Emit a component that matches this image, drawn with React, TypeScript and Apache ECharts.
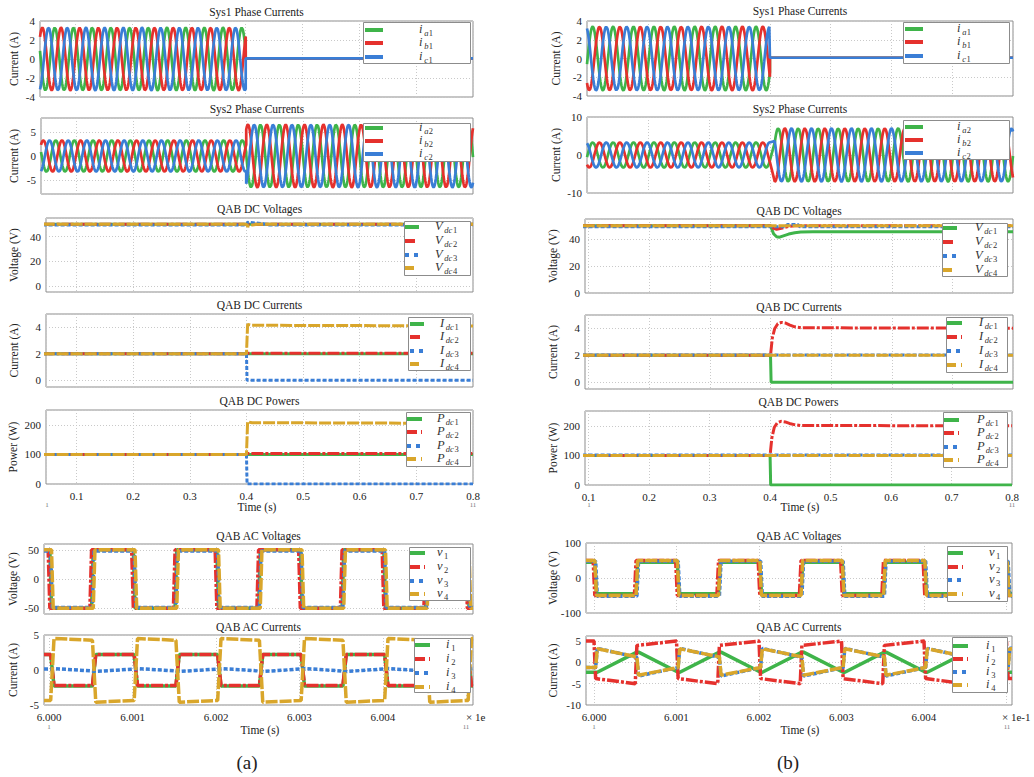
import React, { useEffect, useRef } from 'react';
import * as echarts from 'echarts';

const FONT = 'Liberation Serif, Times New Roman, serif';
const GREEN = '#3fb44a';
const RED = '#e5312d';
const BLUE = '#3a7ed6';
const YELLOW = '#d9a62b';
const INK = '#222';

// ---------------- data ----------------
// three-phase current segments: [tStart, tEnd, amplitude, phase of a at tStart (deg), period (s), offset]
const SYS1_A_SEGMENTS = [[0.038, 0.4, 3.3, 165, 0.0329, 0], [0.4, 0.8, 0, 0, 0.0329, 0.06]];
const SYS2_A_SEGMENTS = [[0.038, 0.4, 3.3, 165, 0.0329, 0], [0.4, 0.8, 6.6, 177.6, 0.0333, 0]];
const SYS1_B_SEGMENTS = [[0.099, 0.4, 3.4, 350, 0.0336, 0], [0.4, 0.8, 0, 0, 0.0336, 0.08]];
const SYS2_B_SEGMENTS = [[0.099, 0.4, 3.3, 350, 0.0336, 0], [0.408, 0.8, 7.0, 28.5, 0.0329, 0]];
const PHASE_SHIFT_DEG = [0, -120, 120];

// DC quantities, (a): [time s, value]
const L_VDC1 = [[0.04, 50], [0.8, 50]];
const L_VDC2 = [[0.04, 50], [0.8, 50]];
const L_VDC3 = [[0.04, 49.3], [0.4, 49.3], [0.402, 51.5], [0.415, 51], [0.43, 50.3], [0.44, 49.3], [0.8, 49.3]];
const L_VDC4 = [[0.04, 50], [0.4, 50], [0.402, 48.3], [0.41, 49.4], [0.42, 50], [0.8, 50]];
const L_IDC1 = [[0.04, 2], [0.8, 2]];
const L_IDC2 = [[0.04, 2], [0.4, 2], [0.403, 2.05], [0.8, 2.05]];
const L_IDC3 = [[0.04, 2], [0.4, 2], [0.401, 0], [0.8, 0]];
const L_IDC4 = [[0.04, 2], [0.4, 2], [0.402, 4.22], [0.41, 4.15], [0.8, 4.1]];
const L_PDC1 = [[0.04, 100], [0.8, 100]];
const L_PDC2 = [[0.04, 100], [0.4, 100], [0.403, 103], [0.8, 103]];
const L_PDC3 = [[0.04, 100], [0.4, 100], [0.401, 0], [0.8, 0]];
const L_PDC4 = [[0.04, 100], [0.4, 100], [0.402, 210], [0.41, 207], [0.8, 205]];

// DC quantities, (b)
const R_VDC1 = [[0.09, 50], [0.4, 50], [0.405, 44], [0.41, 41.8], [0.415, 41.5], [0.42, 42.3], [0.43, 43.8], [0.44, 44.8], [0.45, 45.3], [0.47, 45.5], [0.8, 45.5]];
const R_VDC2 = [[0.09, 50], [0.4, 50], [0.405, 48], [0.41, 47.4], [0.42, 48.3], [0.43, 49.4], [0.44, 50], [0.8, 50]];
const R_VDC3 = [[0.09, 49.3], [0.425, 49.3], [0.428, 51], [0.445, 51], [0.448, 49.3], [0.8, 49.3]];
const R_VDC4 = [[0.09, 50], [0.8, 50]];
const R_IDC1 = [[0.09, 2], [0.4, 2], [0.401, 0], [0.8, 0]];
const R_IDC2 = [[0.09, 2], [0.4, 2], [0.403, 3.3], [0.407, 4.0], [0.412, 4.35], [0.418, 4.45], [0.425, 4.4], [0.432, 4.25], [0.44, 4.12], [0.45, 4.05], [0.8, 4.02]];
const R_IDC3 = [[0.09, 2.03], [0.8, 2.03]];
const R_IDC4 = [[0.09, 2], [0.8, 2]];
const R_PDC1 = [[0.09, 100], [0.4, 100], [0.401, 0], [0.8, 0]];
const R_PDC2 = [[0.09, 100], [0.4, 100], [0.403, 160], [0.407, 195], [0.412, 210], [0.418, 215], [0.425, 213], [0.432, 208], [0.44, 204], [0.45, 201], [0.8, 200]];
const R_PDC3 = [[0.09, 101], [0.8, 101]];
const R_PDC4 = [[0.09, 100], [0.8, 100]];

// AC waveforms: switching instants (x axis units, x 1e-1 s)
const AC_EDGES = [6.0, 6.0005, 6.001, 6.0015, 6.002, 6.0025, 6.003, 6.0035, 6.004, 6.0045, 6.005];
// per series: [edge shift, A-half start, A-half end, B-half start, B-half end]
const L_AC_V1 = [0.00001, -50, -50, 50, 50];
const L_AC_V2 = [-0.00001, -50, -50, 50, 50];
const L_AC_V3 = [0.00002, -49, -49, 48, 48];
const L_AC_V4 = [0.00003, -50, -50, 50, 50];
const L_AC_I1 = [0.00002, -2.3, -2.3, 2.2, 2.2];
const L_AC_I2 = [0.00002, -2.2, -2.2, 2.2, 2.2];
const L_AC_I3 = [0.00003, 0.2, -0.15, -0.2, 0.15];
const L_AC_I4 = [0.00002, 4.5, 4.25, -4.6, -4.35];
const R_AC_V1 = [0.00001, -45, -45, 45, 45];
const R_AC_V2 = [-0.00001, -50, -50, 50, 50];
const R_AC_V3 = [0.00002, -52, -52, 48, 48];
const R_AC_V4 = [0.00001, -50, -50, 50, 50];
const R_AC_I1 = [0.00002, -2.3, 2.4, 2.4, -2.3];
const R_AC_I2 = [0.0, -3.8, -5.0, 4.0, 5.0];
const R_AC_I3 = [0.00002, 3.3, 1.2, -3.2, -1.2];
const R_AC_I4 = [0.00002, 3.2, 1.3, -3.0, -1.2];

// ---------------- builders ----------------
function threePhase(segs: number[][]) {
  const out: number[][][] = [[], [], []];
  for (const [t0, t1, A, th0, T, off] of segs) {
    const n = A === 0 ? 1 : Math.ceil(((t1 - t0) / T) * 32);
    for (let i = 0; i <= n; i++) {
      const t = t0 + ((t1 - t0) * i) / n;
      for (let k = 0; k < 3; k++) {
        const th = ((th0 + ((t - t0) / T) * 360 + PHASE_SHIFT_DEG[k]) * Math.PI) / 180;
        out[k].push([t, off + A * Math.sin(th)]);
      }
    }
  }
  return out;
}

function stepWave(p: number[], rise: number, xmin: number, xmax: number) {
  const [shift, a0, a1, b0, b1] = p;
  const pts: number[][] = [[xmin, b1]];
  AC_EDGES.forEach((e, i) => {
    const prevEnd = i % 2 === 0 ? b1 : a1;
    const nextStart = i % 2 === 0 ? a0 : b0;
    pts.push([e + shift, prevEnd]);
    pts.push([e + shift + rise, nextStart]);
  });
  pts.push([xmax, AC_EDGES.length % 2 === 1 ? a0 : b0]);
  return pts;
}

// plot line styles (short gaps: the noisy traces read as nearly solid)
const P_DASHDOT = [12, 2, 3, 2];
const P_DOT = [4, 2];
const P_DASH = [12, 2];
// legend icon styles
const G_DASHDOT = [10, 4, 3, 4];
const G_DOT = [4, 5];
const G_DASH = [9, 5];

type Lab = { m: string; s: string; n: string };
const lab = (m: string, s: string, n: string): Lab => ({ m, s, n });

type Ser = { color: string; type: any; width: number; data: number[][] };
type Leg = { box: number[]; rows: number[]; line: number[]; labelX: number; labels: Lab[]; dashes: any[] };
type Panel = {
  grid: number[];
  x: number[];
  ac?: boolean;
  xLabels: boolean;
  y: any;
  title: string;
  titleY: number;
  yName: string;
  yNameX: number;
  series: Ser[];
  legend: Leg;
};

const PHASE_DASH = [null, null, null];
const PLOT_DASH = [null, P_DASHDOT, P_DOT, P_DASH];
const LEG_DASH = [null, G_DASHDOT, G_DOT, G_DASH];
const COLORS3 = [GREEN, RED, BLUE];
const COLORS4 = [GREEN, RED, BLUE, YELLOW];

function sinePanelSeries(segs: number[][]): Ser[] {
  const w = threePhase(segs);
  return w.map((d, k) => ({ color: COLORS3[k], type: 'solid', width: 2.7, data: d }));
}
function dcSeries(arrs: number[][][]): Ser[] {
  return arrs.map((d, k) => ({ color: COLORS4[k], type: PLOT_DASH[k] || 'solid', width: 3, data: d }));
}
function acSeries(arrs: number[][], rise: number, xmin: number, xmax: number, width: number): Ser[] {
  return arrs.map((p, k) => ({ color: COLORS4[k], type: PLOT_DASH[k] || 'solid', width, data: stepWave(p, rise, xmin, xmax) }));
}

const LX = { top: [0.038, 0.8], dc: [0.046, 0.8], ac: [5.99994, 6.005078] };
const RX = { top: [0.099, 0.8], dc: [0.094, 0.8], ac: [5.999903, 6.005067] };
const N4 = ['1', '2', '3', '4'];

const panels: Panel[] = [
  {
    grid: [40, 21, 433, 76], x: LX.top, xLabels: false, y: { min: -4, max: 4, interval: 2 },
    title: 'Sys1 Phase Currents', titleY: 12, yName: 'Current (A)', yNameX: 14,
    series: sinePanelSeries(SYS1_A_SEGMENTS),
    legend: { box: [363, 22, 107, 41], rows: [30, 43, 57], line: [365, 383], labelX: 419, labels: [lab('i', 'a', '1'), lab('i', 'b', '1'), lab('i', 'c', '1')], dashes: PHASE_DASH },
  },
  {
    grid: [41, 118, 432, 76], x: LX.top, xLabels: false, y: { min: -8, max: 8, splitNumber: 3, hideEdges: true },
    title: 'Sys2 Phase Currents', titleY: 109, yName: 'Current (A)', yNameX: 14,
    series: sinePanelSeries(SYS2_A_SEGMENTS),
    legend: { box: [363, 123, 107, 38], rows: [128, 141, 154], line: [365, 383], labelX: 419, labels: [lab('i', 'a', '2'), lab('i', 'b', '2'), lab('i', 'c', '2')], dashes: PHASE_DASH },
  },
  {
    grid: [46, 218, 427, 74], x: LX.dc, xLabels: false, y: { min: -5, max: 55, splitNumber: 3, hideEdges: true },
    title: 'QAB DC Voltages', titleY: 209, yName: 'Voltage (V)', yNameX: 14,
    series: dcSeries([L_VDC1, L_VDC2, L_VDC3, L_VDC4]),
    legend: { box: [404, 221, 66, 54], rows: [227, 241, 255, 268], line: [405, 419], labelX: 435, labels: N4.map((n) => lab('V', 'dc', n)), dashes: LEG_DASH },
  },
  {
    grid: [46, 314, 427, 73], x: LX.dc, xLabels: false, y: { min: -0.5, max: 5, splitNumber: 3, hideEdges: true },
    title: 'QAB DC Currents', titleY: 305, yName: 'Current (A)', yNameX: 14,
    series: dcSeries([L_IDC1, L_IDC2, L_IDC3, L_IDC4]),
    legend: { box: [408, 317, 62, 53], rows: [324, 337, 351, 364], line: [410, 424], labelX: 440, labels: N4.map((n) => lab('I', 'dc', n)), dashes: LEG_DASH },
  },
  {
    grid: [46, 410, 427, 74], x: LX.dc, xLabels: true, y: { min: 0, max: 250, interval: 100, hideMax: true },
    title: 'QAB DC Powers', titleY: 401, yName: 'Power (W)', yNameX: 13,
    series: dcSeries([L_PDC1, L_PDC2, L_PDC3, L_PDC4]),
    legend: { box: [406, 412, 64, 54], rows: [419, 432, 446, 459], line: [407, 422], labelX: 437, labels: N4.map((n) => lab('P', 'dc', n)), dashes: LEG_DASH },
  },
  {
    grid: [44, 544, 429, 70], x: LX.ac, ac: true, xLabels: false, y: { min: -60, max: 60, splitNumber: 3, hideEdges: true },
    title: 'QAB AC Voltages', titleY: 536, yName: 'Voltage (V)', yNameX: 13,
    series: acSeries([L_AC_V1, L_AC_V2, L_AC_V3, L_AC_V4], 0.00002, LX.ac[0], LX.ac[1], 3.5),
    legend: { box: [409, 547, 61, 53], rows: [553, 567, 581, 594], line: [410, 425], labelX: 437, labels: N4.map((n) => lab('v', '', n)), dashes: LEG_DASH },
  },
  {
    grid: [44, 635, 429, 70], x: LX.ac, ac: true, xLabels: true, y: { min: -5, max: 5, interval: 5 },
    title: 'QAB AC Currents', titleY: 627, yName: 'Current (A)', yNameX: 13,
    series: acSeries([L_AC_I1, L_AC_I2, L_AC_I3, L_AC_I4], 0.00004, LX.ac[0], LX.ac[1], 3.5),
    legend: { box: [414, 638, 56, 54], rows: [645, 659, 673, 687], line: [415, 430], labelX: 446, labels: N4.map((n) => lab('i', '', n)), dashes: LEG_DASH },
  },
  // ---------- (b) ----------
  {
    grid: [587, 21, 426, 75], x: RX.top, xLabels: false, y: { min: -4, max: 4, interval: 2 },
    title: 'Sys1 Phase Currents', titleY: 11, yName: 'Current (A)', yNameX: 556,
    series: sinePanelSeries(SYS1_B_SEGMENTS),
    legend: { box: [903, 22, 106, 41], rows: [29, 42, 56], line: [905, 923], labelX: 957, labels: [lab('i', 'a', '1'), lab('i', 'b', '1'), lab('i', 'c', '1')], dashes: PHASE_DASH },
  },
  {
    grid: [587, 117, 426, 76], x: RX.top, xLabels: false, y: { min: -10, max: 10, interval: 10 },
    title: 'Sys2 Phase Currents', titleY: 109, yName: 'Current (A)', yNameX: 556,
    series: sinePanelSeries(SYS2_B_SEGMENTS),
    legend: { box: [903, 120, 106, 39], rows: [127, 140, 153], line: [905, 923], labelX: 957, labels: [lab('i', 'a', '2'), lab('i', 'b', '2'), lab('i', 'c', '2')], dashes: PHASE_DASH },
  },
  {
    grid: [585, 219, 428, 74], x: RX.dc, xLabels: false, y: { min: 0, max: 55, interval: 20, hideMax: true },
    title: 'QAB DC Voltages', titleY: 211, yName: 'Voltage (V)', yNameX: 553,
    series: dcSeries([R_VDC1, R_VDC2, R_VDC3, R_VDC4]),
    legend: { box: [942, 223, 65, 53], rows: [228, 242, 256, 270], line: [943, 957], labelX: 975, labels: N4.map((n) => lab('V', 'dc', n)), dashes: LEG_DASH },
  },
  {
    grid: [585, 315, 428, 74], x: RX.dc, xLabels: false, y: { min: -0.5, max: 5, splitNumber: 3, hideEdges: true },
    title: 'QAB DC Currents', titleY: 307, yName: 'Current (A)', yNameX: 553,
    series: dcSeries([R_IDC1, R_IDC2, R_IDC3, R_IDC4]),
    legend: { box: [946, 317, 61, 55], rows: [323, 337, 351, 365], line: [947, 962], labelX: 979, labels: N4.map((n) => lab('I', 'dc', n)), dashes: LEG_DASH },
  },
  {
    grid: [585, 411, 427, 74], x: RX.dc, xLabels: true, y: { min: 0, max: 250, interval: 100, hideMax: true },
    title: 'QAB DC Powers', titleY: 402, yName: 'Power (W)', yNameX: 553,
    series: dcSeries([R_PDC1, R_PDC2, R_PDC3, R_PDC4]),
    legend: { box: [943, 412, 64, 55], rows: [420, 433, 447, 460], line: [944, 959], labelX: 977, labels: N4.map((n) => lab('P', 'dc', n)), dashes: LEG_DASH },
  },
  {
    grid: [586, 543, 426, 70], x: RX.ac, ac: true, xLabels: false, y: { min: -100, max: 100, interval: 100 },
    title: 'QAB AC Voltages', titleY: 536, yName: 'Voltage (V)', yNameX: 553,
    series: acSeries([R_AC_V1, R_AC_V2, R_AC_V3, R_AC_V4], 0.00002, RX.ac[0], RX.ac[1], 3.5),
    legend: { box: [947, 546, 60, 55], rows: [553, 567, 580, 594], line: [948, 963], labelX: 989, labels: N4.map((n) => lab('v', '', n)), dashes: LEG_DASH },
  },
  {
    grid: [586, 636, 426, 69], x: RX.ac, ac: true, xLabels: true, y: { min: -10, max: 6.2, interval: 5, hideMax: true },
    title: 'QAB AC Currents', titleY: 627, yName: 'Current (A)', yNameX: 553,
    series: acSeries([R_AC_I1, R_AC_I2, R_AC_I3, R_AC_I4], 0.00002, RX.ac[0], RX.ac[1], 3.5),
    legend: { box: [952, 637, 55, 55], rows: [646, 659, 672, 685], line: [953, 968], labelX: 986, labels: N4.map((n) => lab('i', '', n)), dashes: LEG_DASH },
  },
];

// approximate advance widths (px) for the legend glyphs
const MAIN_W: Record<string, number> = { i: 4.2, V: 8.2, I: 4.8, P: 7.8, v: 6.0 };
const SUB_W: Record<string, number> = { a: 4.6, b: 4.6, c: 4.2, dc: 8.8, '': 0 };

function buildOption() {
  const splitLine = { show: true, lineStyle: { color: '#c9c9c9', type: [1, 2], width: 1 } };
  const labelStyle = { fontFamily: FONT, fontSize: 11, color: INK };
  const grid: any[] = [];
  const xAxis: any[] = [];
  const yAxis: any[] = [];
  const series: any[] = [];
  const graphic: any[] = [];

  const txt = (text: string, x: number, y: number, size: number, opts: any = {}) => ({
    type: 'text', x, y, z: opts.z ?? 100, rotation: opts.rotation ?? 0,
    style: {
      text, fontFamily: FONT, fontSize: size, fontStyle: opts.italic ? 'italic' : 'normal',
      fill: opts.fill ?? INK, align: opts.align ?? 'center', verticalAlign: 'middle',
    },
  });

  panels.forEach((p, i) => {
    const [gl, gt, gw, gh] = p.grid;
    grid.push({ left: gl, top: gt, width: gw, height: gh, show: true, borderColor: '#8c8c8c', borderWidth: 1 });
    xAxis.push({
      type: 'value', gridIndex: i, min: p.x[0], max: p.x[1], splitNumber: p.ac ? 5 : 7,
      axisLine: { show: false }, axisTick: { show: false }, splitLine,
      axisLabel: {
        show: p.xLabels, ...labelStyle, margin: 6, showMinLabel: false, showMaxLabel: !p.ac,
        formatter: (v: number) => (p.ac ? (v > 6.0046 ? '' : v.toFixed(3)) : v.toFixed(1)),
      },
    });
    const y = p.y;
    const ya: any = {
      type: 'value', gridIndex: i, min: y.min, max: y.max,
      axisLine: { show: false }, axisTick: { show: false }, splitLine,
      axisLabel: { ...labelStyle, margin: 5, showMinLabel: !y.hideEdges, showMaxLabel: !(y.hideEdges || y.hideMax) },
    };
    if (y.interval) ya.interval = y.interval;
    if (y.splitNumber) ya.splitNumber = y.splitNumber;
    yAxis.push(ya);

    p.series.forEach((s, k) => {
      series.push({
        type: 'line', name: `p${i}s${k}`, xAxisIndex: i, yAxisIndex: i, data: s.data,
        symbol: 'none', showSymbol: false, silent: true, clip: true,
        lineStyle: { color: s.color, width: s.width, type: s.type },
        z: 2 + k,
      });
    });

    graphic.push(txt(p.title, gl + gw / 2, p.titleY, 11.5));
    graphic.push(txt(p.yName, p.yNameX, gt + gh / 2, 11.5, { rotation: Math.PI / 2 }));

    const L = p.legend;
    graphic.push({
      type: 'rect', z: 100,
      shape: { x: L.box[0] + 0.5, y: L.box[1] + 0.5, width: L.box[2], height: L.box[3] },
      style: { fill: '#fff', stroke: '#8c8c8c', lineWidth: 1 },
    });
    L.rows.forEach((ry, k) => {
      const color = L.rows.length === 3 ? COLORS3[k] : COLORS4[k];
      graphic.push({
        type: 'line', z: 101,
        shape: { x1: L.line[0], y1: ry, x2: L.line[1], y2: ry },
        style: { stroke: color, lineWidth: 4, lineDash: L.dashes[k] || null },
      });
      const lb = L.labels[k];
      const mw = MAIN_W[lb.m] ?? 6;
      graphic.push(txt(lb.m, L.labelX, ry - 1, 12.5, { italic: true, align: 'left', fill: '#333', z: 101 }));
      const sx = L.labelX + mw + 1;
      if (lb.s) graphic.push(txt(lb.s, sx, ry + 3, 8.5, { italic: true, align: 'left', fill: '#333', z: 101 }));
      graphic.push(txt(lb.n, sx + (SUB_W[lb.s] ?? 5), ry + 3, 8.5, { align: 'left', fill: '#333', z: 101 }));
    });
  });

  graphic.push(txt('Time (s)', 257, 507, 11.5));
  graphic.push(txt('Time (s)', 800, 507, 11.5));
  graphic.push(txt('Time (s)', 260, 730, 11.5));
  graphic.push(txt('Time (s)', 800, 730, 11.5));
  graphic.push(txt('× 1e', 466, 717, 11, { align: 'left' }));
  graphic.push(txt('× 1e-1', 1002, 717, 11, { align: 'left' }));
  const tiny = { fill: '#777' };
  graphic.push(txt('1', 47, 505, 7, tiny));
  graphic.push(txt('11', 473, 505, 7, tiny));
  graphic.push(txt('1', 589, 505, 7, tiny));
  graphic.push(txt('11', 1012, 505, 7, tiny));
  graphic.push(txt('1', 49, 727, 7, tiny));
  graphic.push(txt('11', 466, 727, 7, tiny));
  graphic.push(txt('1', 594, 727, 7, tiny));
  graphic.push(txt('11', 1007, 727, 7, tiny));
  graphic.push(txt('(a)', 247, 762, 19));
  graphic.push(txt('(b)', 788, 762, 19));

  return { animation: false, backgroundColor: '#fff', grid, xAxis, yAxis, series, graphic };
}

export default function App() {
  const ref = useRef<HTMLDivElement>(null);
  useEffect(() => {
    if (!ref.current) return;
    const chart = echarts.init(ref.current, undefined, { renderer: 'svg' });
    chart.setOption(buildOption() as any);
    return () => chart.dispose();
  }, []);
  return <div ref={ref} style={{ position: 'absolute', left: 0, top: 0, width: 1034, height: 777, background: '#fff' }} />;
}
